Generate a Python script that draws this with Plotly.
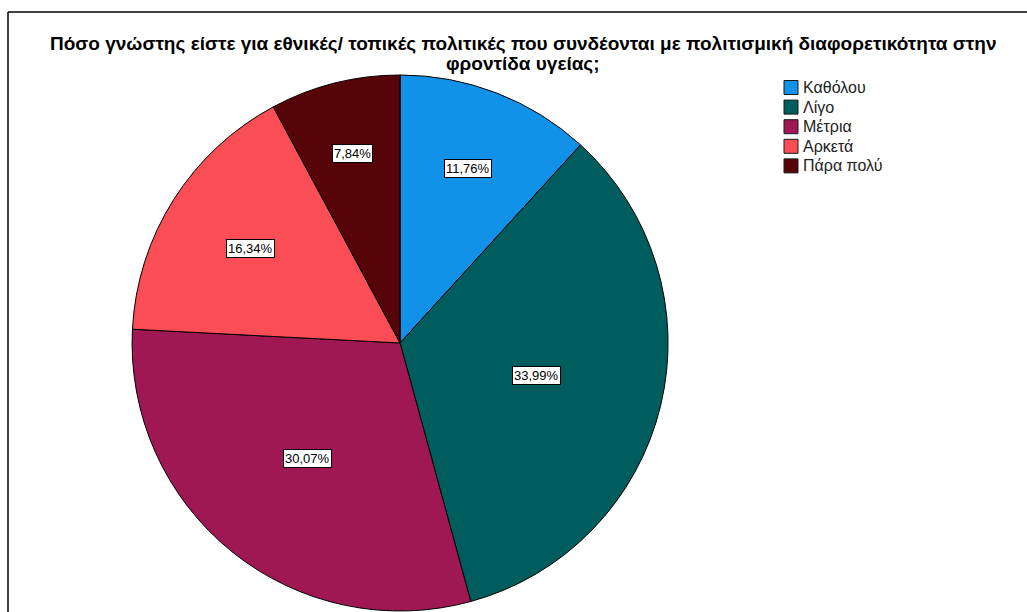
import math
import plotly.graph_objects as go

# Survey responses (percent of respondents)
categories = ["Καθόλου", "Λίγο", "Μέτρια", "Αρκετά", "Πάρα πολύ"]
percentages = [11.76, 33.99, 30.07, 16.34, 7.84]
colors = ["#1192e8", "#005d5d", "#9f1853", "#fa4d56", "#570408"]
title_lines = [
    "Πόσο γνώστης είστε για εθνικές/ τοπικές πολιτικές που συνδέονται με "
    "πολιτισμική διαφορετικότητα στην",
    "φροντίδα υγείας;",
]

W, H = 1027, 612
FONT = "Liberation Sans, Arial, sans-serif"
dom_x = [0.1286, 0.6505]
dom_y = [0.0016, 0.8775]


def px_x(x):
    return x / W


def px_y(y):
    return 1 - y / H


fig = go.Figure()
fig.add_trace(go.Pie(
    labels=categories,
    values=percentages,
    marker=dict(colors=colors, line=dict(color="#000000", width=1)),
    sort=False,
    direction="clockwise",
    rotation=0,
    textinfo="none",
    hoverinfo="label+percent",
    showlegend=False,
    domain=dict(x=dom_x, y=dom_y),
))

# Boxed percentage labels: on each slice's bisector, narrower slices pushed outward
cx_px = (dom_x[0] + dom_x[1]) / 2 * W
cy_px = (1 - (dom_y[0] + dom_y[1]) / 2) * H
radius = min((dom_x[1] - dom_x[0]) * W, (dom_y[1] - dom_y[0]) * H) / 2
total = sum(percentages)
start = 0.0
for p in percentages:
    span = p / total * 2 * math.pi
    mid = start + span / 2
    r_lab = radius * (0.79 - 0.25 * span / 2)
    fig.add_annotation(
        x=px_x(cx_px + r_lab * math.sin(mid)),
        y=px_y(cy_px - r_lab * math.cos(mid)),
        xref="paper", yref="paper",
        xanchor="center", yanchor="middle",
        text=f"{p:.2f}%".replace(".", ","),
        showarrow=False,
        font=dict(family=FONT, size=13, color="#000000"),
        bgcolor="#ffffff", bordercolor="#000000", borderwidth=1, borderpad=1,
    )
    start += span

# Title, two centred lines
for i, line in enumerate(title_lines):
    fig.add_annotation(
        x=px_x(523), y=px_y(43.5 + 20 * i), xref="paper", yref="paper",
        xanchor="center", yanchor="middle", showarrow=False,
        text=f"<b>{line}</b>",
        font=dict(family=FONT, size=19, color="#000000"),
    )

# Legend: swatches with labels
sw = 14
for i, (name, col) in enumerate(zip(categories, colors)):
    yc = 87.5 + 19.6 * i
    fig.add_shape(type="rect", xref="paper", yref="paper",
                  x0=px_x(784), x1=px_x(784 + sw),
                  y0=px_y(yc - sw / 2), y1=px_y(yc + sw / 2),
                  fillcolor=col, line=dict(color="#1a1a1a", width=1))
    fig.add_annotation(
        x=px_x(801), y=px_y(yc), xref="paper", yref="paper",
        xanchor="left", yanchor="middle", showarrow=False,
        text=name, font=dict(family=FONT, size=16, color="#222222"),
    )

# Chart frame
fig.add_shape(type="line", xref="paper", yref="paper",
              x0=px_x(8), x1=1.0, y0=px_y(12), y1=px_y(12),
              line=dict(color="#000000", width=1.5))
fig.add_shape(type="line", xref="paper", yref="paper",
              x0=px_x(8), x1=px_x(8), y0=0.0, y1=px_y(12),
              line=dict(color="#000000", width=1.5))

fig.update_layout(
    width=W, height=H,
    margin=dict(l=0, r=0, t=0, b=0),
    paper_bgcolor="#ffffff",
    plot_bgcolor="#ffffff",
    showlegend=False,
)

fig.write_html("out.html")
